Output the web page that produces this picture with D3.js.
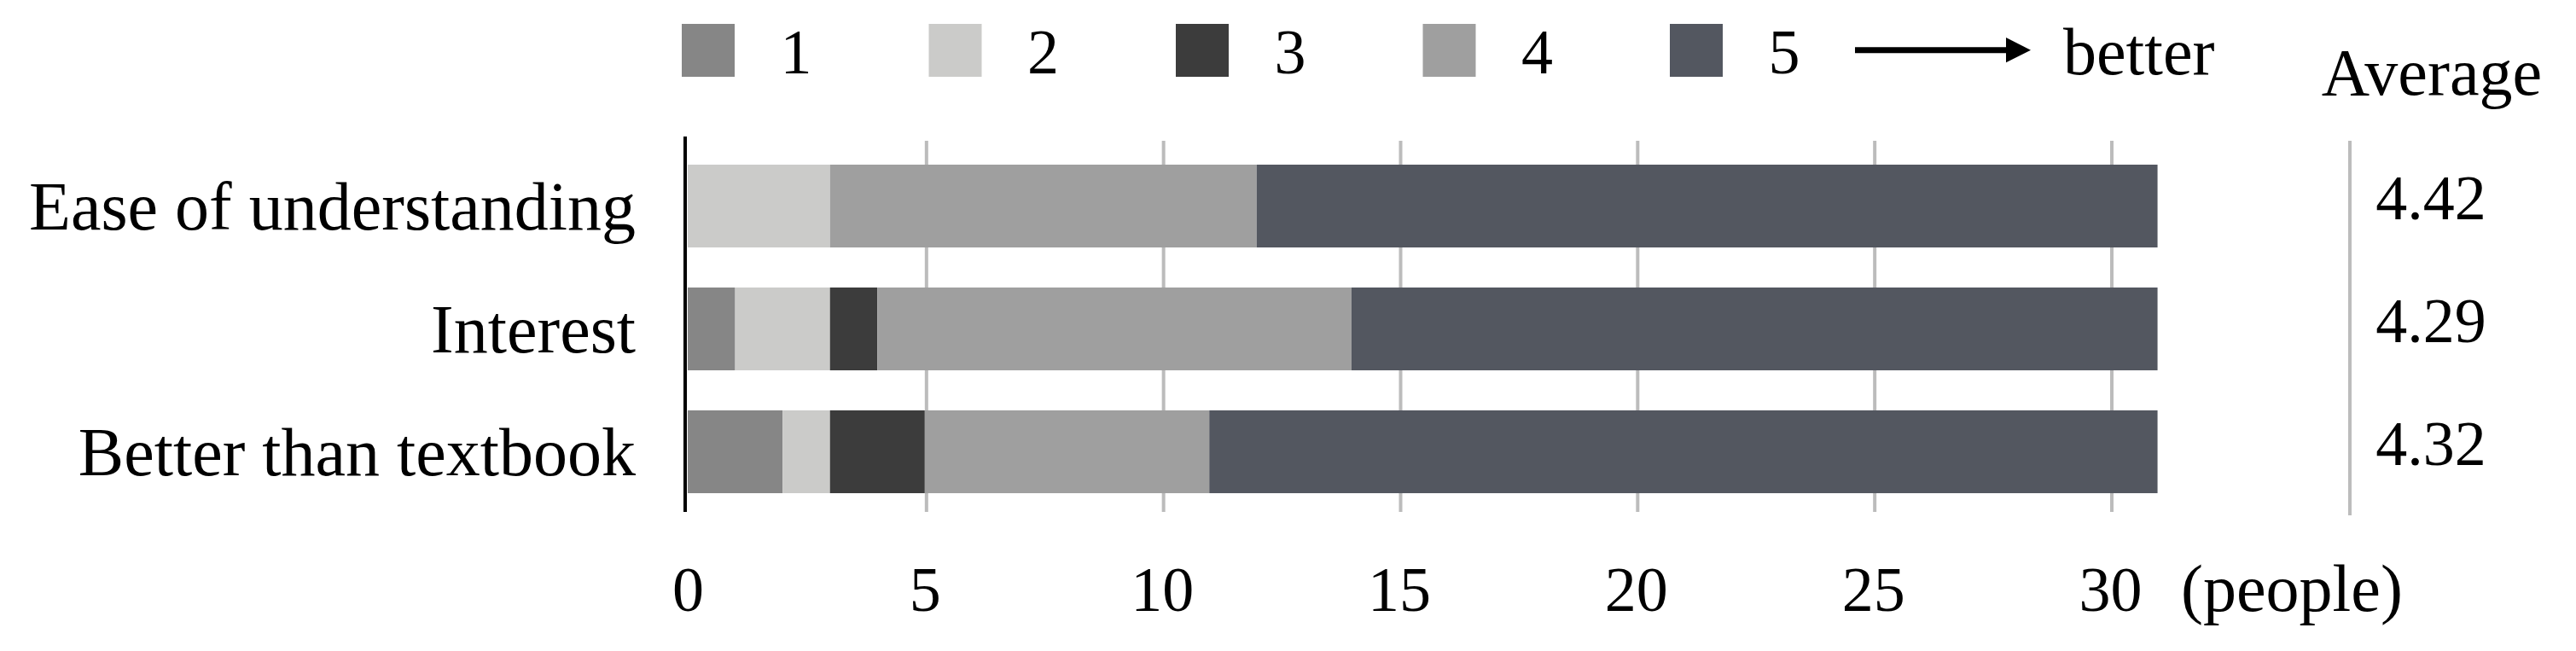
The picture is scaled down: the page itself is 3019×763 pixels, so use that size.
<!DOCTYPE html>
<html>
<head>
<meta charset="utf-8">
<script src="https://cdn.jsdelivr.net/npm/d3@7"></script>
<style>
  html, body { margin: 0; padding: 0; background: #fff; }
  svg { display: block; font-family: "Liberation Serif", "Times New Roman", serif; }
</style>
</head>
<body>
<svg id="chart" width="3019" height="763"></svg>
<script>
// ---- data ----
const categories = ["Ease of understanding", "Interest", "Better than textbook"];
const scores = ["1", "2", "3", "4", "5"];
const score1 = [0, 1, 2];
const score2 = [3, 2, 1];
const score3 = [0, 1, 2];
const score4 = [9, 10, 6];
const score5 = [19, 17, 20];
const averages = ["4.42", "4.29", "4.32"];
const xTicks = [0, 5, 10, 15, 20, 25, 30];
const colors = ["#868686", "#cbcbc9", "#3c3c3c", "#9f9f9f", "#535760"];

const seriesValues = [score1, score2, score3, score4, score5];
const table = categories.map((c, i) => {
  const row = { category: c };
  scores.forEach((s, k) => row[s] = seriesValues[k][i]);
  return row;
});

const svg = d3.select("#chart");

const x = d3.scaleLinear().domain([0, 30]).range([806, 2473]);
const y = d3.scaleBand().domain(categories).range([169.5, 601.5])
  .paddingInner(0.326).paddingOuter(0.163);

// gridlines
svg.append("g").selectAll("line")
  .data(xTicks.filter(t => t > 0))
  .join("line")
  .attr("x1", d => x(d) + 2).attr("x2", d => x(d) + 2)
  .attr("y1", 165).attr("y2", 600)
  .attr("stroke", "#bcbcbc").attr("stroke-width", 4);

// average separator
svg.append("line")
  .attr("x1", 2754).attr("x2", 2754).attr("y1", 165).attr("y2", 604)
  .attr("stroke", "#bcbcbc").attr("stroke-width", 4);

// stacked bars
const stack = d3.stack().keys(scores)(table);
svg.append("g").selectAll("g")
  .data(stack)
  .join("g")
  .attr("fill", (d, i) => colors[i])
  .selectAll("rect")
  .data(d => d)
  .join("rect")
  .attr("x", d => x(d[0]))
  .attr("width", d => x(d[1]) - x(d[0]))
  .attr("y", d => y(d.data.category))
  .attr("height", y.bandwidth());

// y axis line
svg.append("line")
  .attr("x1", x(0) - 3).attr("x2", x(0) - 3)
  .attr("y1", 160).attr("y2", 600)
  .attr("stroke", "#000").attr("stroke-width", 4);

// category labels
svg.append("g").selectAll("text")
  .data(categories)
  .join("text")
  .attr("x", 745)
  .attr("y", d => y(d) + y.bandwidth() / 2 + 27)
  .attr("text-anchor", "end")
  .attr("font-size", 80)
  .attr("fill", "#000")
  .text(d => d);

// x tick labels
const xAxis = d3.axisBottom(x).tickValues(xTicks).tickSize(0).tickPadding(0);
const gx = svg.append("g").attr("transform", "translate(0,716)").call(xAxis);
gx.select(".domain").remove();
gx.selectAll("text")
  .attr("y", 0).attr("dy", 0)
  .attr("font-size", 74)
  .attr("font-family", "Liberation Serif")
  .attr("fill", "#000");

svg.append("text")
  .attr("x", 2556).attr("y", 716)
  .attr("font-size", 78)
  .text("(people)");

// averages
svg.append("text")
  .attr("x", 2850).attr("y", 111)
  .attr("text-anchor", "middle")
  .attr("font-size", 78)
  .text("Average");

svg.append("g").selectAll("text")
  .data(averages)
  .join("text")
  .attr("x", 2849)
  .attr("y", (d, i) => y(categories[i]) + y.bandwidth() / 2 + 15)
  .attr("text-anchor", "middle")
  .attr("font-size", 74)
  .text(d => d);

// legend
const legendX = d3.scalePoint().domain(scores).range([799, 1957]);
const lg = svg.append("g").selectAll("g")
  .data(scores)
  .join("g")
  .attr("transform", d => `translate(${legendX(d)},28)`);
lg.append("rect")
  .attr("width", 62).attr("height", 62)
  .attr("fill", (d, i) => colors[i]);
lg.append("text")
  .attr("x", 134).attr("y", 58)
  .attr("text-anchor", "middle")
  .attr("font-size", 74)
  .text(d => d);

// arrow
svg.append("line")
  .attr("x1", 2174).attr("x2", 2352)
  .attr("y1", 58.7).attr("y2", 58.7)
  .attr("stroke", "#000").attr("stroke-width", 7);
svg.append("path")
  .attr("d", "M2351,44 L2380,58.7 L2351,73.3 Z")
  .attr("fill", "#000");
svg.append("text")
  .attr("x", 2418).attr("y", 87)
  .attr("font-size", 78)
  .text("better");
</script>
</body>
</html>
